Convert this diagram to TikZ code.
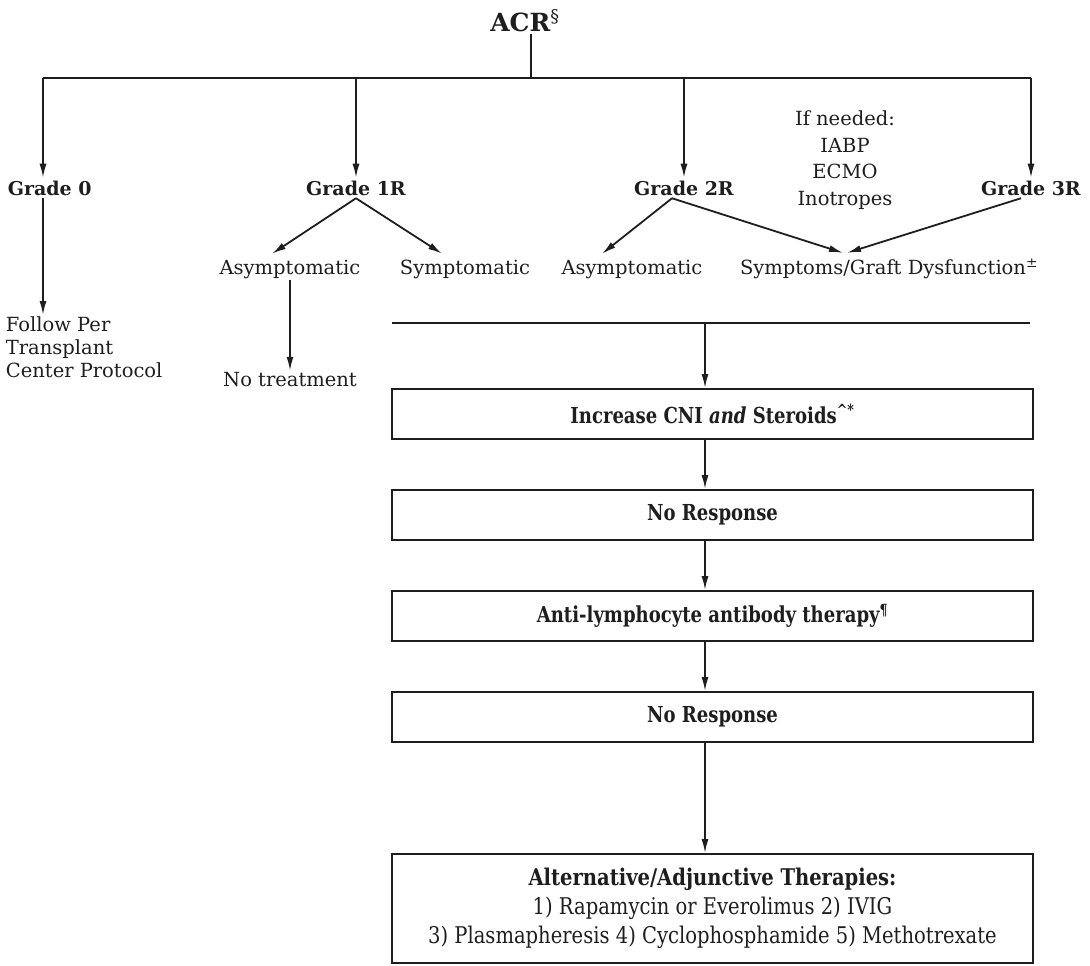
\documentclass[tikz,border=0pt]{standalone}
\usepackage{fontspec}
\setmainfont{DejaVu Serif}
\newfontfamily\boxfont[FakeStretch=0.82]{DejaVu Serif}
\newfontfamily\lastfont[FakeStretch=0.85]{DejaVu Serif}
\usetikzlibrary{arrows.meta,calc}
\definecolor{ink}{HTML}{1E1E1E}
\begin{document}
\begin{tikzpicture}[x=1pt,y=-1pt,line width=1.8pt,draw=ink,text=ink,
  lbl/.style={font=\fontsize{19.5}{23}\selectfont,inner sep=1pt},
  grade/.style={font=\bfseries\fontsize{19}{23}\selectfont,inner sep=2pt},
  arr/.style={-{Latex[length=14pt,width=7pt]}},
  stepbox/.style={draw,minimum width=641pt,minimum height=50pt,inner sep=0pt,
    font=\boxfont\bfseries\fontsize{22}{28}\selectfont}]
\useasboundingbox (0,0) rectangle (1090,966);

% top
\node[font=\bfseries\fontsize{25}{30}\selectfont,inner sep=1pt] (acr) at (525,21) {ACR\textsuperscript{\normalfont\S}};
\coordinate (hl) at (531,78);
\coordinate (hl0) at (43,78);
\draw (acr.south -| hl) -- (hl);

% grades
\node[grade,anchor=west] (g0) at (5,188) {Grade 0};
\node[grade] (g1) at (356,188) {Grade 1R};
\node[grade] (g2) at (684,188) {Grade 2R};
\node[grade] (g3) at (1031,188) {Grade 3R};
\draw (hl0) -- (hl0 -| g3.north);
\draw[arr] (hl0) -- (hl0 |- g0.north);
\draw[arr] (g1.north |- hl) -- (g1.north);
\draw[arr] (g2.north |- hl) -- (g2.north);
\draw[arr] (g3.north |- hl) -- (g3.north);

\node[lbl,align=center,font=\fontsize{19.5}{26.5}\selectfont] (need) at (845,160) {If needed:\\IABP\\ECMO\\Inotropes};

% grade 0
\node[lbl,anchor=north west,align=left] (fol) at (4,315) {Follow Per\\Transplant\\Center Protocol};
\draw[arr] (hl0 |- g0.south) -- (hl0 |- fol.north);

% grade 1R
\node[lbl] (a1) at (290,269) {Asymptomatic};
\node[lbl] (s1) at (465,269) {Symptomatic};
\node[lbl] (nt) at (290,380) {No treatment};
\draw[arr] (g1.south) -- ([xshift=-18pt,yshift=4pt]a1.north);
\draw[arr] (g1.south) -- ([xshift=-23pt,yshift=4pt]s1.north);
\draw[arr] (a1.south) -- (nt.north);

% grade 2R / 3R
\node[lbl] (a2) at (632,269) {Asymptomatic};
\node[lbl] (sg) at (889,269) {Symptoms/Graft Dysfunction\textsuperscript{±}};
\draw[arr] ([xshift=-12pt]g2.south) -- ([xshift=-30pt,yshift=4pt]a2.north);
\draw[arr] ([xshift=-12pt]g2.south) -- ([xshift=-46pt,yshift=4pt]sg.north);
\draw[arr] ([xshift=-10pt]g3.south) -- ([xshift=-42pt,yshift=4pt]sg.north);

% treatment line
\coordinate (l2a) at (392,323);
\coordinate (l2b) at (1030,323);
\coordinate (j2) at (705,323);
\draw (l2a) -- (l2b);

\node[stepbox] (b1) at (712.5,414) {Increase CNI \textit{and} Steroids\textsuperscript{\textasciicircum*}};
\node[stepbox] (b2) at (712.5,515) {No Response};
\node[stepbox] (b3) at (712.5,616) {Anti-lymphocyte antibody therapy\textsuperscript{¶}};
\node[stepbox] (b4) at (712.5,717) {No Response};
\node[stepbox,minimum height=109pt,align=center,font=\lastfont\fontsize{23}{29}\selectfont] (b5) at (712.5,908.5)
  {\textbf{Alternative/Adjunctive Therapies:}\\1) Rapamycin or Everolimus 2) IVIG\\3) Plasmapheresis 4) Cyclophosphamide 5) Methotrexate};

\draw[arr] (j2) -- (b1.north -| j2);
\draw[arr] (b1.south -| j2) -- (b2.north -| j2);
\draw[arr] (b2.south -| j2) -- (b3.north -| j2);
\draw[arr] (b3.south -| j2) -- (b4.north -| j2);
\draw[arr] (b4.south -| j2) -- (b5.north -| j2);
\end{tikzpicture}
\end{document}
